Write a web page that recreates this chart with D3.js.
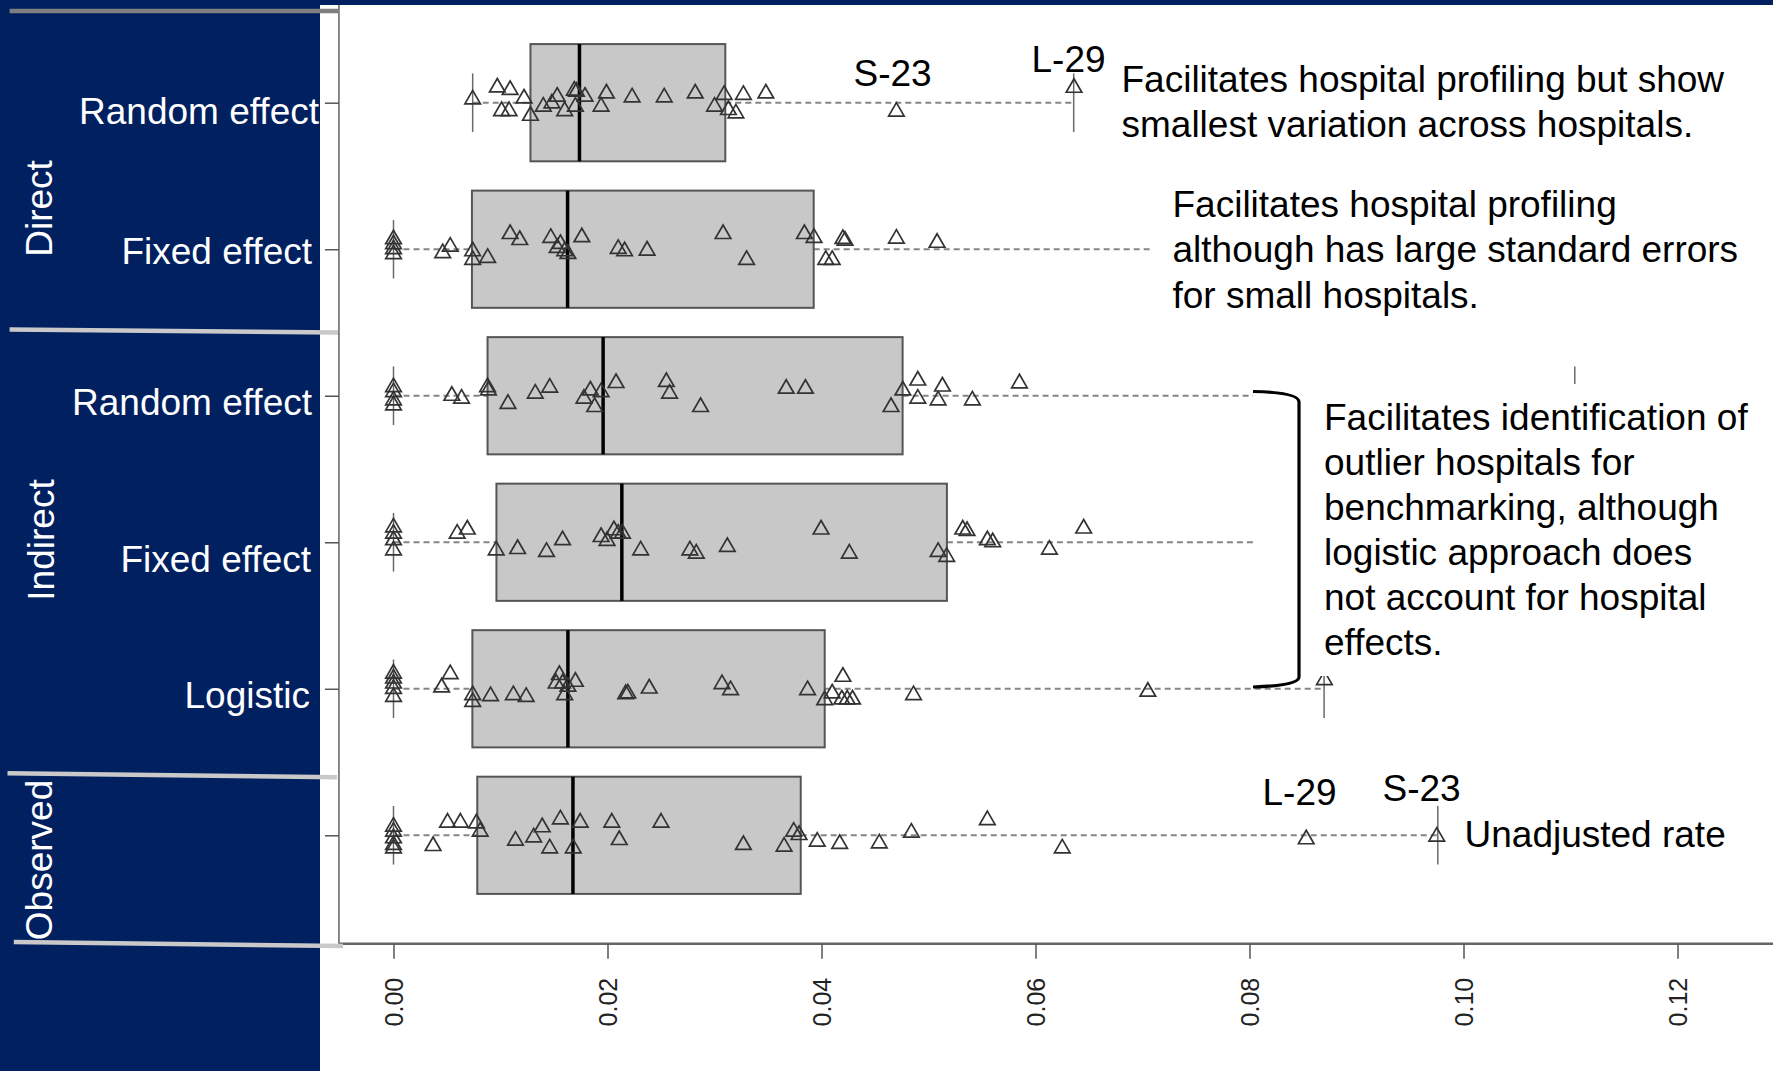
<!DOCTYPE html>
<html>
<head>
<meta charset="utf-8">
<script src="https://cdn.jsdelivr.net/npm/d3@7"></script>
<style>
  html, body { margin: 0; padding: 0; background: #ffffff; }
  svg { display: block; }
  text { font-family: "Liberation Sans", Arial, Helvetica, sans-serif; }
</style>
</head>
<body>
<svg id="chart" width="1773" height="1071"></svg>
<script>
// ---------------- DATA ----------------
// rows from top to bottom
const rowLabels   = ["Random effect", "Fixed effect", "Random effect", "Fixed effect", "Logistic", ""];
const groupLabels = ["Direct", "Indirect", "Observed"];
const xTicks      = [0.00, 0.02, 0.04, 0.06, 0.08, 0.10, 0.12];

// box statistics (whisker low, Q1, median, Q3, whisker high)
const whiskLow  = [0.0074, 0.0000, 0.0000, 0.0000, 0.0000, 0.0000];
const q1        = [0.01280, 0.00733, 0.00879, 0.00962, 0.00737, 0.00783];
const median    = [0.01738, 0.01627, 0.01959, 0.02134, 0.01630, 0.01677];
const q3        = [0.03101, 0.03927, 0.04758, 0.05172, 0.04030, 0.03806];
const whiskHigh = [0.06357, 0.08400, 0.11040, 0.10200, 0.08697, 0.09760];

// hospital-level points: values and vertical jitter (in category units, + = up)
const directRandomVals = [0.0074,0.0097,0.0109,0.0101,0.0108,0.0122,0.0128,0.0140,0.0148,0.0153,0.0160,0.0169,0.0171,0.0170,0.0179,0.0194,0.0199,0.0223,0.0253,0.0282,0.0300,0.0309,0.0313,0.0320,0.0327,0.0348,0.0470,0.0636];
const directRandomJit  = [0.023,0.104,0.087,-0.057,-0.057,0.029,-0.089,-0.027,-0.005,0.041,-0.057,0.082,0.075,-0.027,0.041,-0.027,0.063,0.036,0.036,0.063,-0.027,0.053,-0.050,-0.073,0.053,0.063,-0.061,0.102];

const directFixedVals = [0,0,0,0,0.0046,0.0053,0.0074,0.0074,0.0088,0.0109,0.0118,0.0147,0.0153,0.0156,0.0160,0.0163,0.0176,0.0210,0.0216,0.0237,0.0308,0.0330,0.0384,0.0393,0.0404,0.0410,0.0420,0.0422,0.0470,0.0508];
const directFixedJit  = [0.068,0.034,0,-0.034,-0.027,0.018,-0.014,-0.073,-0.059,0.104,0.063,0.077,0.009,0.036,-0.014,-0.032,0.082,0.002,-0.014,-0.009,0.104,-0.073,0.104,0.077,-0.073,-0.073,0.070,0.059,0.072,0.044];

const indirectRandomVals = [0,0,0,0,0.00545,0.00636,0.00879,0.00887,0.0107,0.01325,0.0146,0.0178,0.0184,0.0188,0.0194,0.0208,0.0255,0.0258,0.0287,0.0367,0.0385,0.0465,0.0476,0.0490,0.0490,0.0509,0.0513,0.0541,0.0585];
const indirectRandomJit  = [0.059,0.025,-0.032,-0.066,0,-0.020,0.059,0.036,-0.055,0.014,0.055,-0.020,0.036,-0.077,0.025,0.087,0.094,0.014,-0.077,0.048,0.048,-0.077,0.036,0.104,-0.020,-0.032,0.063,-0.032,0.085];

const indirectFixedVals = [0,0,0,0,0.00595,0.0069,0.0096,0.0116,0.0143,0.0158,0.0194,0.01996,0.0206,0.0210,0.0214,0.0231,0.0277,0.0283,0.0312,0.03996,0.0426,0.0509,0.0517,0.0532,0.0536,0.0555,0.0560,0.0613,0.0645];
const indirectFixedJit  = [0.102,0.059,0.014,-0.055,0.059,0.087,-0.055,-0.046,-0.066,0.014,0.036,0.009,0.082,0.059,0.059,-0.055,-0.055,-0.077,-0.032,0.087,-0.077,-0.066,-0.100,0.087,0.077,0.014,0,-0.050,0.094];

const logisticVals = [0,0,0,0,0,0.0045,0.0053,0.0074,0.0074,0.00907,0.0112,0.0124,0.0152,0.0155,0.0158,0.0160,0.0163,0.0170,0.0217,0.0219,0.0239,0.0307,0.0315,0.0387,0.0403,0.0410,0.0420,0.0419,0.0424,0.0429,0.0486,0.0705,0.0870];
const logisticJit  = [0.104,0.070,0.036,0,-0.055,0.009,0.100,-0.043,-0.089,-0.050,-0.043,-0.055,0.036,0.094,0.036,-0.043,0.014,0.048,-0.036,-0.032,0.002,0.032,-0.009,-0.009,-0.077,-0.032,0.082,-0.073,-0.073,-0.073,-0.043,-0.020,0.059];

const observedVals = [0,0,0,0,0,0.0037,0.00505,0.00625,0.00775,0.0081,0.0114,0.0131,0.0139,0.0146,0.0156,0.0168,0.01745,0.0204,0.0211,0.0250,0.0327,0.0365,0.0374,0.0379,0.0396,0.0417,0.0454,0.0484,0.0555,0.0625,0.0853,0.0975];
const observedJit  = [0.059,0.025,-0.020,-0.066,-0.089,-0.073,0.087,0.087,0.082,0.025,-0.036,-0.014,0.055,-0.089,0.109,-0.089,0.087,0.087,-0.032,0.087,-0.066,-0.077,0.025,0.002,-0.043,-0.059,-0.055,0.018,0.104,-0.089,-0.027,-0.009];

const pointVals = [directRandomVals, directFixedVals, indirectRandomVals, indirectFixedVals, logisticVals, observedVals];
const pointJit  = [directRandomJit, directFixedJit, indirectRandomJit, indirectFixedJit, logisticJit, observedJit];

// annotation texts
const note1 = ["Facilitates hospital profiling but show", "smallest variation across hospitals."];
const note2 = ["Facilitates hospital profiling", "although has large standard errors", "for small hospitals."];
const note3 = ["Facilitates identification of", "outlier hospitals for", "benchmarking, although", "logistic approach does", "not account for hospital", "effects."];
const note4 = ["Unadjusted rate"];

// ---------------- DRAWING ----------------
const W = 1773, H = 1071;
const NAVY = "#002060";
const svg = d3.select("#chart");

const x = d3.scaleLinear().domain([0, 0.12]).range([393.5, 1677.5]);
const y = d3.scaleLinear().domain([1, 6]).range([835.3, 102.7]);
const rowPos = i => 6 - i;          // top row -> position 6
const halfBox = 0.4, halfStaple = 0.2;

svg.append("rect").attr("width", W).attr("height", H).attr("fill", "#fff");

const plot = svg.append("g");

// frame (left & bottom)
const xLeft = x(-0.0051), yBottom = y(0.26);
plot.append("line").attr("x1", xLeft).attr("x2", xLeft).attr("y1", 0).attr("y2", yBottom)
  .attr("stroke", "#6a6a6a").attr("stroke-width", 1.6);
plot.append("line").attr("x1", xLeft).attr("x2", W).attr("y1", yBottom).attr("y2", yBottom)
  .attr("stroke", "#666").attr("stroke-width", 2.6);

// x axis
const xAxis = d3.axisBottom(x).tickValues(xTicks).tickSize(15).tickFormat(d3.format(".2f"));
const gx = plot.append("g").attr("transform", `translate(0,${yBottom})`).call(xAxis);
gx.select(".domain").remove();
gx.selectAll(".tick line").attr("stroke", "#555").attr("stroke-width", 1.5);
gx.selectAll(".tick text")
  .attr("transform", "rotate(-90)").attr("x", -34).attr("y", 0).attr("dy", "0.35em")
  .attr("text-anchor", "end").attr("fill", "#222")
  .style("font-size", "25px").style("font-family", "'Liberation Sans', Arial, sans-serif");

// y axis ticks
const yAxis = d3.axisLeft(y).tickValues([1, 2, 3, 4, 5, 6]).tickSize(14).tickFormat("");
const gy = plot.append("g").attr("transform", `translate(${xLeft},0)`).call(yAxis);
gy.select(".domain").remove();
gy.selectAll(".tick line").attr("stroke", "#555").attr("stroke-width", 1.5);

// boxes
rowLabels.forEach((lab, i) => {
  const p = rowPos(i);
  const g = plot.append("g");
  // whiskers (dashed)
  [[whiskLow[i], q1[i]], [q3[i], whiskHigh[i]]].forEach(([a, b]) => {
    g.append("line").attr("x1", x(a)).attr("x2", x(b)).attr("y1", y(p)).attr("y2", y(p))
      .attr("stroke", "#858585").attr("stroke-width", 1.9).attr("stroke-dasharray", "6,4");
  });
  // staples
  [whiskLow[i], whiskHigh[i]].forEach(v => {
    g.append("line").attr("x1", x(v)).attr("x2", x(v))
      .attr("y1", y(p + halfStaple)).attr("y2", y(p - halfStaple))
      .attr("stroke", "#6a6a6a").attr("stroke-width", 1.5);
  });
  // box
  g.append("rect").attr("x", x(q1[i])).attr("y", y(p + halfBox))
    .attr("width", x(q3[i]) - x(q1[i])).attr("height", y(p - halfBox) - y(p + halfBox))
    .attr("fill", "#c8c8c8").attr("stroke", "#555").attr("stroke-width", 2);
  // median
  g.append("line").attr("x1", x(median[i])).attr("x2", x(median[i]))
    .attr("y1", y(p + halfBox)).attr("y2", y(p - halfBox))
    .attr("stroke", "#000").attr("stroke-width", 3.5);
});

// points
const tri = d3.symbol().type(d3.symbolTriangle).size(105);
pointVals.forEach((vals, i) => {
  const p = rowPos(i);
  plot.append("g").selectAll("path").data(vals.map((v, k) => [v, pointJit[i][k]]))
    .join("path")
    .attr("d", tri)
    .attr("transform", d => `translate(${x(d[0])},${y(p + d[1])})`)
    .attr("fill", "none").attr("stroke", "#333").attr("stroke-width", 1.7);
});

// white text boxes that cover part of the plot
svg.append("rect").attr("x", 1150).attr("y", 172).attr("width", W - 1150).attr("height", 158).attr("fill", "#fff");
svg.append("rect").attr("x", 1253).attr("y", 384).attr("width", W - 1253).attr("height", 292).attr("fill", "#fff");

// bracket
svg.append("path")
  .attr("d", "M1253,391.5 Q1299,392.5 1299,402 L1299,677 Q1299,685.5 1253,687")
  .attr("fill", "none").attr("stroke", "#000").attr("stroke-width", 3.2);

// annotations
const ann = svg.append("g").attr("fill", "#000").style("font-size", "37px");
function lines(arr, x0, y0, dy) {
  arr.forEach((t, k) => ann.append("text").attr("x", x0).attr("y", y0 + k * dy).text(t));
}
lines(["S-23"], 853.5, 86, 0);
lines(["L-29"], 1031.5, 72, 0);
lines(note1, 1121.5, 91.5, 45);
lines(note2, 1172.5, 217, 45.3);
lines(note3, 1324, 429.5, 45);
lines(["L-29"], 1262.5, 805, 0);
lines(["S-23"], 1382.5, 801, 0);
lines(note4, 1464.5, 847, 0);

// left navy panel + top band
svg.append("rect").attr("x", 0).attr("y", 0).attr("width", 320).attr("height", H).attr("fill", NAVY);
svg.append("rect").attr("x", 0).attr("y", 0).attr("width", W).attr("height", 5).attr("fill", NAVY);

// category labels
const labEnd = [319, 312, 312, 311, 310, 0];
const labBase = [124, 264, 415, 572, 708, 0];
rowLabels.forEach((t, i) => {
  if (!t) return;
  svg.append("text").attr("x", labEnd[i]).attr("y", labBase[i])
    .attr("text-anchor", "end").attr("fill", "#fff").style("font-size", "37px").text(t);
});

// group labels (rotated)
const groupCenter = [208.5, 540, 860];
const groupBase = [52, 54, 52];
groupLabels.forEach((t, i) => {
  svg.append("text").attr("transform", `translate(${groupBase[i]},${groupCenter[i]}) rotate(-90)`)
    .attr("text-anchor", "middle").attr("fill", "#fff").style("font-size", "37px").text(t);
});

// separator lines
const seps = [
  {x1: 9.6, y1: 11, x2: 338, y2: 11, c: "#7f7f7f"},
  {x1: 9.6, y1: 329.5, x2: 338, y2: 332.5, c: "#c9c9c9"},
  {x1: 7.5, y1: 773.3, x2: 337, y2: 777.3, c: "#c9c9c9"},
  {x1: 13.8, y1: 942, x2: 343, y2: 946, c: "#c9c9c9"}
];
seps.forEach(s => svg.append("line").attr("x1", s.x1).attr("y1", s.y1).attr("x2", s.x2).attr("y2", s.y2)
  .attr("stroke", s.c).attr("stroke-width", 4.5));
</script>
</body>
</html>
